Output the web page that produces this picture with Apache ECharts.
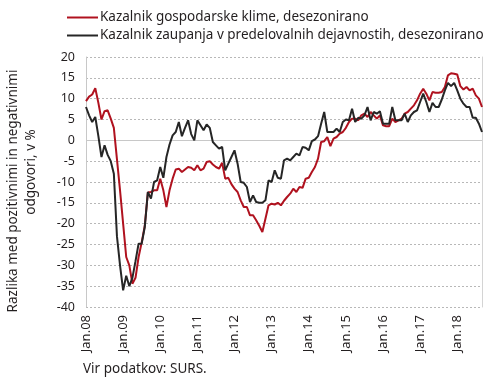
<!DOCTYPE html>
<html><head><meta charset="utf-8">
<script src="https://cdn.jsdelivr.net/npm/echarts@6/dist/echarts.min.js"></script>
<style>html,body{margin:0;padding:0;background:#fff}#c{width:490px;height:381px}</style>
</head><body><div id="c"></div>
<script>
var years = ['08','09','10','11','12','13','14','15','16','17','18'];
var months = ['Jan','Feb','Mar','Apr','May','Jun','Jul','Aug','Sep','Oct','Nov','Dec'];
var nPoints = 129;
var categories = [];
for (var y = 0; y < years.length; y++) for (var m = 0; m < 12; m++) {
  if (categories.length < nPoints) categories.push(months[m] + '.' + years[y]);
}
var yTicks = [-40,-35,-30,-25,-20,-15,-10,-5,0,5,10,15,20];
var seriesNames = ['Kazalnik gospodarske klime, desezonirano','Kazalnik zaupanja v predelovalnih dejavnostih, desezonirano'];
var climate = [
 9.4,10.5,11,12.5,9,5,7,7.2,5.2,3,-4.5,-12,-20,-28,-30,-34.4,-33,-28,-24.5,-20.5,
 -12.5,-12.4,-12,-12,-9.2,-12,-16,-12,-9.2,-7,-6.8,-7.6,-7,-6.4,-6.6,-7.2,-6,-7.2,-6.8,-5.2,
 -5,-5.8,-6.4,-6.8,-5.4,-9.2,-9,-10.5,-11.6,-12.4,-14.4,-16,-16,-18,-18,-19.2,-20.5,-22,-18.8,-15.6,
 -15.2,-15.4,-15,-15.6,-14.5,-13.6,-12.8,-11.6,-12.4,-11.2,-11.4,-9.2,-9,-7.6,-6.4,-4.4,-0.4,-0.2,0.8,-1.4,
 0.4,0.8,1.6,2,3,4.4,5.2,5.2,4.8,6,6.4,5.6,6.8,6,5.2,6,3.6,3.4,3.4,5.2,
 4.4,4.8,5.2,6.4,6.8,7.6,8.4,9.6,11.2,12.4,11.2,9.6,11.6,11.4,11.4,11.6,12.8,15.6,16.1,16,
 15.8,13,12.2,12.8,12,12.4,10.8,10,8
];
var manufacturing = [
 8,6,4.4,5.6,1,-4,-1.2,-3.5,-5,-8,-23,-30,-36,-32.5,-35,-33,-29,-24.8,-24.8,-20.8,
 -12.4,-14,-10,-9.6,-6.4,-9,-4,-1,1.2,2,4.4,1,3,4.8,1.5,0,4.8,3.6,2.4,3.8,
 3,-0.4,-1.2,-2,-1.6,-7.2,-5.6,-4,-2.4,-5.6,-10,-10.2,-11.2,-14.8,-13.2,-14.8,-15,-15,-14.4,-9.6,
 -10,-7.2,-9,-9.2,-4.8,-4.4,-4.8,-4,-3.2,-3.6,-1.6,-1.8,-2.4,-0.2,0.2,1,4,6.8,2,2,
 2,2.8,2,4.4,5,4.8,7.6,4.4,5.4,5.2,6,8,4.8,6.8,6.4,7,4,4,4,8,
 4.8,4.8,4.8,6.4,4.4,6,6.8,7.2,9.2,11.2,9.2,6.8,9,8,8,9.8,12,13.8,13,13.8,
 12,10,8.8,8,8,5.4,5.4,4,2
];
var FONT = 'Noto Sans';
var chart = echarts.init(document.getElementById('c'));
chart.setOption({
  animation: false,
  textStyle: {fontFamily: FONT},
  grid: {left: 86, right: 8, top: 57, bottom: 74},
  legend: {
    orient: 'vertical', left: 62, top: 4, itemGap: 1, itemWidth: 31, itemHeight: 2, icon: 'rect',
    textStyle: {fontFamily: FONT, fontSize: 13.5, color: '#231f20', lineHeight: 17, padding: [0,0,0,-3]},
    data: seriesNames
  },
  xAxis: {
    type: 'category', data: categories, boundaryGap: false,
    axisLine: {show: false}, axisTick: {show: false},
    splitLine: {show: false},
    axisLabel: {
      rotate: 90, margin: 8, fontSize: 13, color: '#231f20', fontFamily: FONT,
      interval: function (i) { return i % 12 === 0; }
    }
  },
  yAxis: [{
    type: 'value', min: yTicks[0], max: yTicks[yTicks.length-1], interval: 5,
    axisLine: {show: true, lineStyle: {color: '#c8c8c8', width: 1}},
    axisTick: {show: false},
    axisLabel: {fontSize: 12.5, color: '#231f20', margin: 11, fontFamily: FONT},
    splitLine: {show: true, lineStyle: {color: '#b8b8b8', type: [2, 2], width: 1}}
  }, {
    type: 'value', position: 'right', min: yTicks[0], max: yTicks[yTicks.length-1], interval: 5,
    axisLine: {show: true, lineStyle: {color: '#d4d4d4', width: 1}},
    axisTick: {show: false}, axisLabel: {show: false}, splitLine: {show: false}
  }],
  graphic: [
    {type: 'text', x: 13, y: 191, rotation: Math.PI/2,
     style: {text: 'Razlika med pozitivnimi in negativnimi', fontFamily: FONT, fontSize: 13.5, fill: '#231f20', align: 'center', verticalAlign: 'middle'}},
    {type: 'text', x: 31, y: 172, rotation: Math.PI/2,
     style: {text: 'odgovori, v %', fontFamily: FONT, fontSize: 13.5, fill: '#231f20', align: 'center', verticalAlign: 'middle'}},
    {type: 'text', x: 83, y: 369,
     style: {text: 'Vir podatkov: SURS.', fontFamily: FONT, fontSize: 13.5, fill: '#231f20', align: 'left', verticalAlign: 'middle'}}
  ],
  series: [
    {name: seriesNames[0], type: 'line', data: climate, showSymbol: false, symbol: 'none',
     lineStyle: {color: '#b0121f', width: 2}, itemStyle: {color: '#b0121f'}, z: 3,
     markLine: {silent: true, symbol: 'none', label: {show: false},
       lineStyle: {color: '#c8c8c8', type: 'solid', width: 1}, data: [{yAxis: 0}], z: 1}},
    {name: seriesNames[1], type: 'line', data: manufacturing, showSymbol: false, symbol: 'none',
     lineStyle: {color: '#262626', width: 2}, itemStyle: {color: '#262626'}, z: 4}
  ]
});
</script></body></html>
